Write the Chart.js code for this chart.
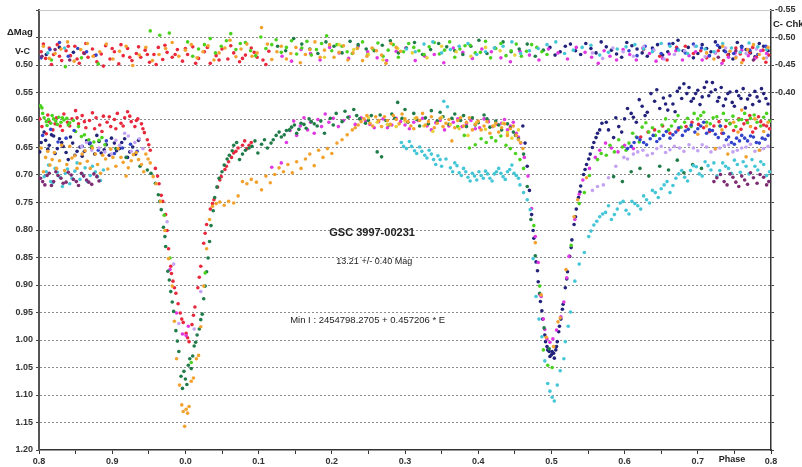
<!DOCTYPE html>
<html>
<head>
<meta charset="utf-8">
<script src="https://cdn.jsdelivr.net/npm/chart.js@4.4.0/dist/chart.umd.min.js"></script>
<style>
html, body { margin: 0; padding: 0; background: #fff; }
#wrap { width: 802px; height: 467px; position: relative; }
</style>
</head>
<body>
<div id="wrap"><canvas id="chart"></canvas></div>
<script>
// axis ticks (phase runs 0.8 .. 1.0/0.0 .. 0.8, plotted as -0.2 .. 0.8)
const phaseTicks = [-0.2, -0.15, -0.1, -0.05, 0, 0.05, 0.1, 0.15, 0.2, 0.25, 0.3, 0.35, 0.4, 0.45, 0.5, 0.55, 0.6, 0.65, 0.7, 0.75, 0.8];
const phaseTickLabels = ['0.8', '', '0.9', '', '0.0', '', '0.1', '', '0.2', '', '0.3', '', '0.4', '', '0.5', '', '0.6', '', '0.7', '', '0.8'];
const magTicks = [0.4, 0.45, 0.5, 0.55, 0.6, 0.65, 0.7, 0.75, 0.8, 0.85, 0.9, 0.95, 1.0, 1.05, 1.1, 1.15, 1.2];
const magTickLabels = ['', '', '0.50', '0.55', '0.60', '0.65', '0.70', '0.75', '0.80', '0.85', '0.90', '0.95', '1.00', '1.05', '1.10', '1.15', '1.20'];
const chkTickLabels = ['-0.55', '-0.50', '-0.45', '-0.40', '', '', '', '', '', '', '', '', '', '', '', '', ''];

const starName = 'GSC 3997-00231';
const magText = '13.21 +/- 0.40 Mag';
const ephemText = 'Min I : 2454798.2705 + 0.457206 * E';

// V-C points per night [phase, dMag]
const redV = [[-0.196,0.612],[-0.190,0.625],[-0.186,0.603],[-0.181,0.618],[-0.176,0.596],[-0.171,0.611],[-0.166,0.589],[-0.161,0.604],[-0.155,0.598],[-0.150,0.583],[-0.146,0.607],[-0.141,0.592],[-0.136,0.614],[-0.131,0.601],[-0.127,0.587],[-0.122,0.596],[-0.117,0.609],[-0.112,0.593],[-0.107,0.604],[-0.102,0.612],[-0.097,0.599],[-0.093,0.588],[-0.088,0.606],[-0.083,0.596],[-0.079,0.585],[-0.074,0.603],[-0.069,0.612],[-0.065,0.598],[-0.060,0.607],[-0.056,0.623],[-0.052,0.636],[-0.048,0.655],
  [-0.199,0.598],[-0.188,0.591],[-0.178,0.607],[-0.168,0.619],[-0.158,0.611],[-0.148,0.596],[-0.138,0.603],[-0.124,0.616],[-0.114,0.621],[-0.104,0.594],[-0.095,0.616],[-0.085,0.611],[-0.076,0.593],[-0.067,0.601],[-0.058,0.616],[-0.050,0.645],
  [-0.041,0.688],[-0.036,0.716],[-0.031,0.748],[-0.027,0.772],[-0.023,0.834],[-0.020,0.866],[-0.017,0.893],[-0.013,0.915],[-0.010,0.934],[-0.007,0.951],[-0.003,0.968],[0.001,0.988],[0.005,1.003],
  [-0.038,0.702],[-0.033,0.737],[-0.025,0.801],[-0.019,0.879],[-0.015,0.905],[-0.005,0.962],[0.003,0.996],[0.011,0.955],[0.019,0.886],[0.027,0.806],[0.037,0.752],[0.047,0.709],[0.056,0.684],[0.063,0.668],[0.069,0.657],[0.081,0.638],[0.087,0.646],
  [0.009,0.972],[0.013,0.940],[0.017,0.905],[0.021,0.866],[0.025,0.824],[0.029,0.790],[0.034,0.762],[0.039,0.745],[0.044,0.722],[0.049,0.703],[0.054,0.690],[0.059,0.676],[0.066,0.660],[0.072,0.651],[0.078,0.646],[0.084,0.652],[0.090,0.641],
  [0.622,0.631],[0.641,0.618],[0.662,0.624],[0.684,0.612],[0.701,0.608],[0.716,0.621],[0.729,0.603],[0.738,0.612],[0.749,0.619],[0.756,0.598],[0.763,0.607],[0.771,0.592],[0.779,0.615],[0.786,0.603],[0.794,0.611],
  [0.632,0.622],[0.652,0.611],[0.673,0.618],[0.692,0.604],[0.708,0.614],[0.722,0.611],[0.733,0.624],[0.744,0.606],[0.759,0.617],[0.767,0.601],[0.775,0.622],[0.783,0.594],[0.790,0.609],[0.798,0.616]];
const navyV = [[-0.197,0.641],[-0.193,0.622],[-0.188,0.653],[-0.183,0.627],[-0.178,0.661],[-0.172,0.634],[-0.167,0.648],[-0.160,0.672],[-0.154,0.642],[-0.148,0.657],[-0.141,0.666],[-0.135,0.638],[-0.128,0.651],[-0.121,0.628],[-0.115,0.660],[-0.108,0.645],[-0.101,0.633],[-0.094,0.656],[-0.087,0.641],[-0.079,0.668],[-0.072,0.649],[-0.064,0.637],
  [-0.199,0.658],[-0.191,0.637],[-0.186,0.646],[-0.180,0.629],[-0.175,0.652],[-0.169,0.641],[-0.163,0.659],[-0.157,0.631],[-0.151,0.664],[-0.144,0.649],[-0.138,0.657],[-0.131,0.643],[-0.124,0.662],[-0.118,0.639],[-0.111,0.654],[-0.104,0.664],[-0.097,0.642],[-0.090,0.652],[-0.083,0.634],[-0.076,0.658],[-0.068,0.662],
  [0.461,0.611],[0.464,0.642],[0.467,0.684],[0.470,0.728],[0.473,0.772],[0.476,0.815],[0.479,0.858],[0.482,0.894],[0.485,0.930],[0.488,0.962],[0.491,0.991],[0.494,1.012],[0.497,1.021],[0.500,1.027],[0.503,1.024],[0.506,1.018],[0.508,1.003],
  [0.475,0.801],[0.481,0.874],[0.487,0.947],[0.492,1.003],[0.495,1.018],[0.498,1.030],[0.501,1.021],[0.504,1.033],[0.507,1.012],[0.511,0.975],[0.515,0.944],[0.521,0.889],[0.527,0.832],[0.533,0.776],[0.539,0.731],[0.546,0.690],[0.551,0.671],[0.556,0.650],[0.561,0.632],[0.566,0.618],
  [0.510,0.985],[0.513,0.962],[0.516,0.935],[0.519,0.905],[0.522,0.876],[0.525,0.848],[0.528,0.818],[0.531,0.790],[0.534,0.762],[0.537,0.741],[0.540,0.720],[0.544,0.699],[0.548,0.681],[0.553,0.662],[0.558,0.641],[0.563,0.624],[0.569,0.606],
  [0.578,0.618],[0.585,0.632],[0.592,0.612],[0.600,0.598],[0.609,0.588],[0.616,0.604],[0.624,0.575],[0.631,0.586],[0.636,0.552],[0.641,0.566],[0.648,0.579],[0.653,0.560],[0.659,0.582],[0.666,0.571],[0.672,0.548],[0.678,0.561],[0.681,0.534],[0.685,0.552],[0.691,0.566],[0.697,0.552],[0.703,0.572],[0.709,0.541],[0.715,0.556],[0.720,0.532],[0.724,0.545],[0.729,0.559],[0.735,0.574],[0.741,0.552],[0.747,0.568],[0.753,0.548],[0.759,0.561],[0.765,0.578],[0.771,0.555],[0.778,0.548],[0.784,0.566],[0.790,0.552],[0.796,0.571],
  [0.575,0.604],[0.588,0.596],[0.596,0.622],[0.604,0.579],[0.612,0.595],[0.620,0.563],[0.628,0.592],[0.644,0.545],[0.656,0.571],[0.662,0.556],[0.669,0.585],[0.675,0.542],[0.688,0.541],[0.694,0.561],[0.700,0.546],[0.706,0.558],[0.712,0.531],[0.718,0.549],[0.727,0.566],[0.732,0.541],[0.738,0.562],[0.744,0.549],[0.750,0.575],[0.756,0.556],[0.762,0.543],[0.768,0.562],[0.775,0.572],[0.781,0.558],[0.787,0.543],[0.793,0.561]];
const blueV = [[-0.195,0.628],[-0.184,0.617],[-0.174,0.640],[-0.163,0.633],[-0.152,0.619],[-0.141,0.648],[-0.130,0.642],[-0.119,0.655],[-0.108,0.638],[-0.097,0.661],[-0.086,0.651],[-0.075,0.644],[-0.066,0.657],
  [0.604,0.652],[0.613,0.641],[0.621,0.636],[0.630,0.645],[0.639,0.628],[0.648,0.634],[0.657,0.621],[0.666,0.627],[0.674,0.614],[0.683,0.620],[0.691,0.609],[0.700,0.616],[0.708,0.604],[0.716,0.618],[0.724,0.626],[0.731,0.611],[0.739,0.636],[0.746,0.641],[0.753,0.633],[0.760,0.628],[0.768,0.638],[0.776,0.631],[0.784,0.642],[0.792,0.635],
  [0.609,0.648],[0.617,0.632],[0.626,0.641],[0.635,0.634],[0.644,0.639],[0.653,0.628],[0.662,0.633],[0.670,0.622],[0.679,0.628],[0.687,0.617],[0.696,0.622],[0.704,0.611],[0.712,0.624],[0.720,0.619],[0.728,0.632],[0.735,0.624],[0.742,0.631],[0.750,0.644],[0.757,0.638],[0.764,0.633],[0.772,0.629],[0.780,0.641],[0.788,0.633],[0.796,0.628]];
const limeV = [[-0.198,0.574],[-0.196,0.578],[-0.193,0.596],[-0.190,0.603],[-0.187,0.599],[-0.184,0.606],[-0.180,0.598],[-0.177,0.602],[-0.173,0.595],[-0.170,0.604],[-0.166,0.600],[-0.162,0.597],[-0.158,0.605],[-0.153,0.601],[-0.146,0.612],[-0.138,0.627],[-0.132,0.636],[-0.125,0.640],[-0.118,0.637],[-0.110,0.645],
  [-0.195,0.588],[-0.189,0.610],[-0.182,0.592],[-0.175,0.608],[-0.168,0.596],[-0.160,0.609],[-0.150,0.621],[-0.142,0.630],[-0.128,0.648],[-0.114,0.632],
  [-0.029,0.773],[-0.021,0.851],[0.008,1.041],[0.027,0.878],
  [0.372,0.612],[0.381,0.628],[0.388,0.651],[0.396,0.645],[0.404,0.634],[0.411,0.641],[0.418,0.632],[0.424,0.638],[0.431,0.629],[0.438,0.646],[0.444,0.652],[0.451,0.661],[0.457,0.672],[0.462,0.688],
  [0.476,0.792],[0.484,0.902],[0.489,1.018],[0.495,1.046],[0.501,1.050],[0.527,0.828],[0.538,0.752],[0.545,0.732],[0.552,0.701],
  [0.563,0.672],[0.575,0.664],[0.586,0.658],[0.597,0.649],[0.606,0.642],[0.616,0.631],[0.624,0.613],[0.633,0.622],[0.642,0.628],[0.651,0.609],[0.660,0.618],[0.669,0.602],[0.677,0.613],[0.686,0.597],[0.695,0.588],[0.704,0.592],[0.712,0.604],[0.721,0.596],[0.730,0.611],[0.739,0.601],[0.748,0.593],[0.756,0.600],[0.764,0.588],[0.772,0.597],[0.781,0.604],[0.790,0.595],[0.798,0.602],
  [0.568,0.661],[0.580,0.646],[0.592,0.636],[0.602,0.655],[0.611,0.624],[0.620,0.640],[0.629,0.605],[0.638,0.614],[0.647,0.621],[0.656,0.598],[0.664,0.611],[0.673,0.592],[0.682,0.604],[0.691,0.612],[0.700,0.598],[0.708,0.586],[0.717,0.607],[0.726,0.594],[0.735,0.588],[0.744,0.607],[0.752,0.612],[0.760,0.599],[0.768,0.605],[0.777,0.591],[0.786,0.611],[0.794,0.588]];
const darkGreenV = [[-0.095,0.652],[-0.081,0.668],[-0.062,0.684],[-0.052,0.691],[-0.047,0.697],
  [-0.041,0.715],[-0.037,0.736],[-0.033,0.763],[-0.030,0.795],[-0.027,0.830],[-0.024,0.875],[-0.020,0.912],[-0.016,0.948],[-0.013,0.983],[-0.009,1.021],[-0.006,1.066],[-0.002,1.057],[0.002,1.081],[0.006,1.034],[0.010,1.029],[0.014,1.004],[0.019,0.980],[0.023,0.953],[0.027,0.902],[0.031,0.851],[0.035,0.792],[0.040,0.741],[0.046,0.706],[0.053,0.682],[0.060,0.664],[0.066,0.646],[0.074,0.672],[0.082,0.655],[0.091,0.648],[0.099,0.660],[0.108,0.636],[0.117,0.642],[0.124,0.628],[0.131,0.631],[0.138,0.619],[0.145,0.613],[0.152,0.624],[0.158,0.606],[0.165,0.615],[0.172,0.603],[0.180,0.611],[0.190,0.624],
  [-0.035,0.748],[-0.028,0.812],[-0.022,0.891],[-0.018,0.931],[-0.011,1.002],[-0.004,1.088],[0.000,1.071],[0.004,1.046],[0.008,1.052],[0.012,1.011],[0.016,0.991],[0.021,0.963],[0.025,0.925],[0.029,0.876],[0.033,0.821],[0.038,0.765],[0.043,0.722],[0.050,0.694],[0.057,0.671],[0.064,0.656],[0.070,0.641],[0.078,0.662],[0.087,0.651],[0.095,0.638],[0.104,0.644],[0.112,0.651],[0.120,0.636],[0.128,0.622],[0.135,0.627],[0.142,0.618],[0.149,0.609],[0.155,0.617],[0.162,0.608],[0.169,0.598],[0.176,0.607],[0.185,0.602],
  [0.198,0.597],[0.206,0.588],[0.214,0.603],[0.222,0.595],[0.230,0.581],[0.238,0.598],[0.246,0.606],[0.254,0.592],[0.262,0.658],[0.268,0.667],[0.274,0.601],[0.282,0.589],[0.290,0.568],[0.296,0.597],[0.304,0.604],[0.312,0.588],[0.320,0.611],[0.328,0.596],[0.336,0.583],[0.344,0.602],[0.352,0.594],[0.360,0.608],[0.368,0.589],[0.376,0.601],[0.384,0.612],[0.392,0.596],[0.400,0.605],[0.408,0.591],[0.416,0.613],[0.424,0.602],[0.432,0.618],[0.440,0.607],[0.448,0.622],[0.455,0.634],
  [0.202,0.609],[0.218,0.584],[0.234,0.592],[0.250,0.601],[0.266,0.591],[0.278,0.609],[0.286,0.597],[0.300,0.581],[0.316,0.599],[0.332,0.607],[0.348,0.586],[0.364,0.597],[0.380,0.592],[0.396,0.609],[0.412,0.598],[0.428,0.609],[0.444,0.614],[0.451,0.628],
  [0.462,0.662],[0.467,0.721],[0.472,0.781],[0.478,0.847],[0.484,0.915],[0.490,0.978],[0.497,1.016],
  [0.585,0.703],[0.597,0.712],[0.609,0.694],[0.621,0.688],[0.633,0.702],[0.648,0.684],[0.660,0.691],[0.672,0.673],[0.681,0.696],[0.693,0.681],[0.705,0.688]];
const orangeV = [[-0.197,0.651],[-0.191,0.668],[-0.185,0.682],[-0.179,0.659],[-0.172,0.674],[-0.165,0.692],[-0.158,0.648],[-0.151,0.665],[-0.144,0.679],[-0.137,0.656],[-0.130,0.688],[-0.123,0.662],[-0.116,0.697],[-0.109,0.671],[-0.102,0.653],[-0.095,0.684],[-0.088,0.668],[-0.081,0.702],[-0.074,0.674],[-0.067,0.659],[-0.060,0.681],[-0.054,0.662],[-0.048,0.678],[-0.044,0.703],[-0.040,0.716],
  [-0.194,0.694],[-0.188,0.657],[-0.182,0.672],[-0.176,0.688],[-0.169,0.646],[-0.162,0.681],[-0.155,0.669],[-0.148,0.688],[-0.141,0.662],[-0.134,0.675],[-0.127,0.651],[-0.120,0.681],[-0.113,0.664],[-0.106,0.689],[-0.099,0.668],[-0.092,0.652],[-0.085,0.677],[-0.078,0.687],[-0.071,0.663],[-0.064,0.672],[-0.057,0.694],[-0.051,0.671],
  [-0.034,0.748],[-0.028,0.801],[-0.023,0.852],[-0.018,0.902],[-0.015,0.966],[-0.012,1.034],[-0.008,1.082],[-0.005,1.118],[-0.003,1.130],[-0.001,1.157],[0.001,1.126],[0.003,1.133],[0.005,1.121],[0.008,1.075],[0.011,1.069],[0.015,1.034],[0.018,1.028],[0.021,0.976],[0.025,0.902],[0.029,0.834],[0.033,0.781],
  [0.037,0.757],[0.042,0.752],[0.047,0.749],[0.053,0.755],[0.059,0.748],[0.066,0.751],[0.072,0.738],[0.078,0.712],[0.084,0.716],[0.090,0.708],[0.097,0.713],[0.104,0.727],[0.110,0.702],[0.116,0.714],[0.122,0.699],[0.128,0.687],[0.134,0.694],[0.140,0.681],[0.146,0.696],[0.152,0.676],[0.158,0.688],[0.164,0.671],[0.170,0.662],[0.176,0.683],[0.182,0.655],[0.188,0.668],[0.194,0.652],[0.200,0.661],[0.207,0.642],[0.214,0.636],[0.221,0.627],[0.228,0.618],
  [0.236,0.609],[0.244,0.598],[0.252,0.606],[0.260,0.594],[0.268,0.612],[0.276,0.601],[0.284,0.592],[0.292,0.607],[0.300,0.598],[0.308,0.611],[0.316,0.596],[0.324,0.588],[0.332,0.603],[0.340,0.614],[0.348,0.597],[0.356,0.606],[0.364,0.638],[0.372,0.601],[0.380,0.611],[0.388,0.596],[0.396,0.608],[0.404,0.618],[0.412,0.603],[0.420,0.611],[0.428,0.622],[0.436,0.607],[0.444,0.616],[0.452,0.628],[0.458,0.641],
  [0.232,0.614],[0.240,0.603],[0.248,0.592],[0.256,0.611],[0.264,0.601],[0.272,0.594],[0.280,0.608],[0.288,0.599],[0.296,0.589],[0.304,0.603],[0.312,0.616],[0.320,0.601],[0.328,0.609],[0.336,0.594],[0.344,0.606],[0.352,0.612],[0.360,0.599],[0.368,0.614],[0.376,0.596],[0.384,0.604],[0.392,0.618],[0.400,0.602],[0.408,0.611],[0.416,0.624],[0.424,0.606],[0.432,0.614],[0.440,0.628],[0.448,0.611],[0.455,0.636],[0.461,0.652],
  [0.478,0.823],[0.486,0.918],[0.493,0.995],[0.503,1.012],[0.509,0.967],[0.512,0.960],[0.520,0.872],[0.531,0.776],[0.536,0.745],[0.548,0.705],
  [0.700,0.626],[0.712,0.611],[0.724,0.652],[0.733,0.618],[0.741,0.662],[0.749,0.604],[0.755,0.622],[0.760,0.582],[0.766,0.667],[0.772,0.612],[0.778,0.598],[0.784,0.655],[0.790,0.621],[0.796,0.604]];
const magentaV = [[-0.021,0.872],[-0.012,0.951],[-0.004,0.989],[0.001,0.992],[0.004,0.975],
  [0.118,0.686],[0.131,0.678],[0.138,0.641],[0.143,0.619],[0.148,0.602],[0.152,0.628],[0.157,0.611],[0.162,0.596],[0.167,0.618],[0.171,0.604],[0.176,0.624],[0.181,0.599],[0.186,0.612],[0.191,0.589],[0.196,0.604],[0.202,0.597],[0.209,0.612],[0.216,0.601],[0.224,0.594],[0.232,0.608],
  [0.246,0.602],[0.258,0.614],[0.270,0.598],[0.282,0.609],[0.294,0.603],[0.306,0.616],[0.318,0.601],[0.330,0.611],[0.342,0.605],[0.354,0.618],[0.366,0.604],[0.378,0.612],[0.390,0.601],[0.402,0.614],[0.414,0.603],[0.426,0.608],[0.436,0.599],[0.444,0.611],[0.452,0.624],[0.458,0.642],[0.463,0.668],
  [0.240,0.596],[0.252,0.608],[0.264,0.603],[0.276,0.614],[0.288,0.597],[0.300,0.609],[0.312,0.604],[0.324,0.597],[0.336,0.618],[0.348,0.601],[0.360,0.611],[0.372,0.598],[0.384,0.607],[0.396,0.616],[0.408,0.598],[0.420,0.612],[0.432,0.606],[0.440,0.618],[0.448,0.604],[0.455,0.631],
  [0.468,0.702],[0.473,0.761],[0.478,0.812],[0.482,0.859],[0.484,0.917],[0.486,0.921],[0.489,0.962],[0.491,0.981],[0.494,0.998],[0.498,1.004],[0.502,0.998],[0.507,0.982],[0.513,0.958],[0.517,0.931],[0.521,0.887],[0.524,0.848],[0.532,0.781],[0.538,0.735],[0.543,0.709],[0.552,0.688],[0.560,0.668],[0.566,0.655],[0.574,0.642],[0.582,0.651],[0.591,0.658],[0.600,0.646],[0.612,0.652]];
const cyanV = [[-0.193,0.703],[-0.187,0.682],[-0.181,0.714],[-0.175,0.695],[-0.168,0.721],[-0.161,0.689],[-0.155,0.706],[-0.148,0.678],[-0.141,0.698],[-0.134,0.712],[-0.127,0.684],[-0.120,0.703],[-0.112,0.691],
  [-0.190,0.694],[-0.184,0.712],[-0.178,0.688],[-0.171,0.704],[-0.164,0.697],[-0.158,0.716],[-0.151,0.693],[-0.144,0.708],[-0.137,0.687],[-0.130,0.701],[-0.123,0.694],[-0.116,0.710],
  [0.295,0.641],[0.302,0.652],[0.309,0.648],[0.316,0.661],[0.323,0.657],[0.330,0.669],[0.336,0.662],[0.342,0.681],[0.348,0.672],[0.353,0.566],[0.358,0.576],[0.362,0.687],[0.368,0.678],[0.374,0.696],[0.380,0.688],[0.386,0.704],[0.392,0.697],[0.398,0.709],[0.404,0.701],[0.410,0.693],[0.416,0.706],[0.422,0.698],[0.428,0.688],[0.434,0.703],[0.440,0.694],[0.446,0.682],[0.452,0.701],[0.457,0.718],[0.462,0.732],[0.467,0.745],[0.471,0.763],
  [0.298,0.648],[0.306,0.639],[0.313,0.656],[0.320,0.649],[0.327,0.664],[0.333,0.655],[0.339,0.672],[0.345,0.665],[0.350,0.684],[0.356,0.671],[0.365,0.694],[0.371,0.683],[0.377,0.701],[0.383,0.694],[0.389,0.711],[0.395,0.702],[0.401,0.694],[0.407,0.706],[0.413,0.698],[0.419,0.711],[0.425,0.694],[0.431,0.697],[0.437,0.708],[0.443,0.690],[0.449,0.697],[0.455,0.706],
  [0.475,0.852],[0.479,0.921],[0.483,0.962],[0.487,0.994],[0.491,1.038],[0.495,1.079],[0.498,1.093],[0.501,1.104],[0.504,1.111],[0.508,1.082],[0.512,1.056],[0.517,1.034],[0.519,1.003],[0.523,0.975],[0.526,0.949],[0.532,0.893],[0.538,0.862],[0.545,0.841],
  [0.551,0.812],[0.558,0.791],[0.566,0.776],[0.574,0.768],[0.582,0.781],[0.590,0.762],[0.598,0.748],[0.606,0.771],[0.614,0.752],[0.622,0.762],[0.630,0.745],[0.638,0.728],[0.646,0.741],[0.654,0.718],[0.662,0.732],[0.670,0.706],[0.678,0.692],[0.686,0.711],[0.694,0.683],[0.702,0.698],[0.710,0.676],[0.718,0.691],[0.726,0.702],[0.734,0.678],[0.742,0.688],[0.750,0.673],[0.758,0.695],[0.766,0.684],[0.774,0.672],[0.782,0.691],[0.790,0.681],[0.798,0.694],
  [0.554,0.802],[0.562,0.784],[0.570,0.771],[0.578,0.756],[0.586,0.772],[0.594,0.751],[0.602,0.764],[0.610,0.748],[0.618,0.756],[0.626,0.738],[0.634,0.751],[0.642,0.732],[0.650,0.725],[0.658,0.712],[0.666,0.719],[0.674,0.698],[0.682,0.704],[0.690,0.692],[0.698,0.685],[0.706,0.702],[0.714,0.683],[0.722,0.678],[0.730,0.692],[0.738,0.684],[0.746,0.697],[0.754,0.681],[0.762,0.676],[0.770,0.698],[0.778,0.684],[0.786,0.676],[0.794,0.701]];
const lavenderV = [[-0.142,0.648],[-0.128,0.655],[-0.118,0.651],[-0.101,0.662],[-0.090,0.646],[-0.083,0.624],[-0.078,0.629],[-0.069,0.641],[-0.058,0.652],
  [-0.135,0.641],[-0.110,0.658],[-0.095,0.637],[-0.074,0.657],[-0.063,0.634],
  [-0.025,0.785],[-0.016,0.862],[-0.009,0.970],[0.012,0.980],[0.021,0.912],
  [0.556,0.728],[0.563,0.721],[0.571,0.718],[0.578,0.705],[0.588,0.684],[0.599,0.668],[0.612,0.662],[0.625,0.655],[0.638,0.661],[0.650,0.648],[0.662,0.654],[0.675,0.651],[0.688,0.645],[0.700,0.656],[0.712,0.649],[0.724,0.653],[0.736,0.647],[0.748,0.658],[0.760,0.651],[0.772,0.644],[0.785,0.655],[0.796,0.648],
  [0.604,0.671],[0.618,0.658],[0.631,0.664],[0.644,0.652],[0.656,0.659],[0.668,0.648],[0.681,0.657],[0.694,0.651],[0.706,0.645],[0.718,0.658],[0.730,0.651],[0.742,0.645],[0.754,0.655],[0.766,0.649],[0.778,0.657],[0.790,0.652]];
const maroonV = [[-0.198,0.706],[-0.192,0.718],[-0.186,0.697],[-0.180,0.712],[-0.174,0.701],[-0.167,0.715],[-0.160,0.695],[-0.153,0.708],[-0.146,0.719],[-0.139,0.702],[-0.132,0.713],[-0.125,0.698],[-0.118,0.711],
  [-0.195,0.712],[-0.189,0.701],[-0.183,0.719],[-0.177,0.694],[-0.170,0.706],[-0.163,0.713],[-0.156,0.700],[-0.149,0.712],[-0.142,0.697],[-0.135,0.709],[-0.128,0.717],[-0.121,0.703],
  [0.722,0.712],[0.731,0.699],[0.740,0.718],[0.748,0.704],[0.756,0.721],[0.764,0.709],[0.772,0.696],[0.781,0.715],[0.790,0.704],[0.797,0.712],
  [0.726,0.705],[0.736,0.712],[0.744,0.698],[0.752,0.713],[0.760,0.702],[0.768,0.717],[0.776,0.705],[0.785,0.699],[0.794,0.718]];
const yellowV = [[0.262,0.604],[0.288,0.612],[0.314,0.597],[0.338,0.621],[0.362,0.608],[0.386,0.628],[0.410,0.617],[0.434,0.606],[0.446,0.633],[0.455,0.618],
  [0.250,0.596],[0.276,0.608],[0.300,0.602],[0.326,0.611],[0.350,0.595],[0.374,0.616],[0.398,0.604],[0.422,0.611],[0.440,0.623]];

// C-Chk points per night [phase, dMag]
const redC = [[-0.197,0.476],[-0.191,0.488],[-0.186,0.469],[-0.180,0.481],[-0.175,0.463],[-0.169,0.492],[-0.163,0.474],[-0.157,0.483],[-0.151,0.466],[-0.145,0.497],[-0.139,0.478],[-0.133,0.486],[-0.127,0.471],[-0.121,0.494],[-0.115,0.480],[-0.109,0.465],[-0.103,0.489],[-0.097,0.476],[-0.091,0.498],[-0.085,0.483],[-0.079,0.470],[-0.073,0.492],[-0.067,0.479],[-0.061,0.486],[-0.055,0.473],[-0.049,0.495],[-0.043,0.481],[-0.037,0.468],[-0.031,0.490],[-0.025,0.477],[-0.018,0.486],[-0.011,0.472],[-0.004,0.493],[0.003,0.481],[0.010,0.467],[0.018,0.488],[0.026,0.476],[0.034,0.497],[0.042,0.483],[0.050,0.471],[0.058,0.489],[0.066,0.478],[0.074,0.494],[0.082,0.482],[0.090,0.469],[0.098,0.486],[0.106,0.491],[0.114,0.475],
  [-0.194,0.462],[-0.183,0.499],[-0.172,0.484],[-0.160,0.466],[-0.148,0.489],[-0.136,0.461],[-0.124,0.483],[-0.112,0.502],[-0.100,0.470],[-0.088,0.463],[-0.076,0.486],[-0.064,0.467],[-0.052,0.481],[-0.040,0.499],[-0.028,0.464],[-0.014,0.481],[0.000,0.470],[0.014,0.497],[0.030,0.468],[0.046,0.491],[0.062,0.465],[0.078,0.488],[0.094,0.477],[0.110,0.499],
  [0.626,0.472],[0.648,0.484],[0.671,0.468],[0.694,0.479],[0.712,0.487],[0.728,0.474],[0.741,0.482],[0.752,0.469],[0.762,0.491],[0.771,0.477],[0.780,0.486],[0.789,0.473],[0.797,0.482],
  [0.658,0.491],[0.683,0.466],[0.704,0.474],[0.735,0.492],[0.758,0.480],[0.775,0.468],[0.793,0.495]];
const orangeC = [[-0.194,0.466],[-0.178,0.479],[-0.161,0.458],[-0.143,0.472],[-0.126,0.484],[-0.108,0.462],[-0.090,0.475],[-0.072,0.501],[-0.054,0.468],[-0.036,0.481],[-0.018,0.459],[0.000,0.473],[0.016,0.487],[0.031,0.465],[0.046,0.478],[0.061,0.455],[0.076,0.471],[0.091,0.484],[0.104,0.432],[0.112,0.462],[0.125,0.476],[0.138,0.489],[0.151,0.468],[0.164,0.481],[0.177,0.458],[0.190,0.473],[0.203,0.486],[0.216,0.465],[0.229,0.478],[0.242,0.492],[0.255,0.469],[0.268,0.482],[0.281,0.461],[0.294,0.475],
  [-0.186,0.488],[-0.170,0.471],[-0.152,0.493],[-0.134,0.461],[-0.117,0.476],[-0.099,0.489],[-0.081,0.466],[-0.063,0.482],[-0.045,0.492],[-0.027,0.470],[-0.009,0.484],[0.008,0.463],[0.024,0.476],[0.039,0.491],[0.054,0.469],[0.069,0.485],[0.084,0.462],[0.098,0.478],[0.118,0.490],[0.131,0.466],[0.144,0.479],[0.157,0.496],[0.170,0.472],[0.184,0.486],[0.197,0.463],[0.210,0.477],[0.222,0.491],[0.235,0.470],[0.248,0.484],[0.261,0.474],[0.274,0.497],[0.288,0.468],
  [0.712,0.478],[0.734,0.466],[0.752,0.487],[0.768,0.472],[0.784,0.481],[0.796,0.468],
  [0.722,0.489],[0.744,0.475],[0.760,0.496],[0.776,0.463],[0.790,0.488]];
const limeC = [[-0.183,0.491],[-0.164,0.503],[-0.142,0.487],[-0.119,0.498],[-0.048,0.438],[-0.035,0.446],[-0.022,0.442],
  [0.003,0.458],[0.018,0.471],[0.034,0.452],[0.049,0.466],[0.062,0.443],[0.075,0.461],[0.089,0.474],[0.103,0.449],[0.118,0.463],[0.131,0.477],[0.145,0.456],[0.159,0.469],[0.172,0.482],[0.186,0.461],[0.200,0.474],[0.214,0.466],[0.228,0.479],[0.242,0.458],[0.256,0.471],[0.270,0.484],[0.284,0.463],[0.298,0.476],[0.312,0.468],[0.326,0.481],[0.340,0.459],[0.354,0.473],[0.368,0.486],[0.382,0.465],[0.396,0.478],[0.410,0.457],[0.424,0.470],[0.438,0.483],[0.452,0.462],[0.466,0.475],[0.480,0.468],[0.494,0.481],
  [0.010,0.484],[0.026,0.463],[0.041,0.478],[0.056,0.456],[0.069,0.472],[0.082,0.459],[0.096,0.483],[0.110,0.470],[0.124,0.454],[0.138,0.468],[0.152,0.480],[0.166,0.457],[0.179,0.472],[0.193,0.447],[0.207,0.463],[0.221,0.476],[0.235,0.469],[0.249,0.481],[0.263,0.460],[0.277,0.473],[0.291,0.486],[0.305,0.461],[0.319,0.474],[0.333,0.467],[0.347,0.480],[0.361,0.458],[0.375,0.471],[0.389,0.464],[0.403,0.477],[0.417,0.487],[0.431,0.461],[0.445,0.474],[0.459,0.484],[0.473,0.463],[0.487,0.476]];
const navyC = [[-0.190,0.481],[-0.172,0.468],[-0.153,0.477],
  [0.498,0.468],[0.512,0.476],[0.526,0.462],[0.540,0.481],[0.554,0.470],[0.568,0.458],[0.582,0.473],[0.596,0.486],[0.610,0.465],[0.624,0.478],[0.638,0.469],[0.652,0.482],[0.666,0.461],[0.680,0.474],[0.694,0.487],[0.706,0.463],[0.718,0.476],[0.730,0.468],[0.742,0.481],[0.754,0.459],[0.766,0.472],[0.778,0.485],[0.790,0.466],
  [0.505,0.482],[0.519,0.466],[0.533,0.474],[0.547,0.461],[0.561,0.478],[0.575,0.467],[0.589,0.480],[0.603,0.459],[0.617,0.471],[0.631,0.484],[0.645,0.463],[0.659,0.476],[0.673,0.455],[0.687,0.468],[0.700,0.479],[0.712,0.470],[0.724,0.458],[0.736,0.474],[0.748,0.489],[0.760,0.466],[0.772,0.478],[0.784,0.461],[0.796,0.474]];
const blueC = [[-0.185,0.472],[-0.160,0.484],[-0.135,0.476],[-0.197,0.487],[-0.172,0.459],[-0.147,0.470],[-0.122,0.482],
  [0.606,0.474],[0.628,0.466],[0.650,0.479],[0.672,0.471],[0.694,0.462],[0.716,0.483],[0.738,0.476],[0.760,0.468],[0.782,0.481],
  [0.617,0.483],[0.639,0.472],[0.661,0.462],[0.683,0.478],[0.705,0.469],[0.727,0.464],[0.749,0.479],[0.771,0.473],[0.793,0.466]];
const magentaC = [[0.132,0.484],[0.158,0.472],[0.184,0.491],[0.210,0.478],[0.236,0.466],[0.262,0.487],[0.288,0.475],[0.314,0.492],[0.340,0.481],[0.366,0.469],[0.392,0.488],[0.418,0.476],[0.444,0.494],[0.470,0.482],[0.496,0.471],[0.522,0.489],[0.546,0.477],[0.564,0.497],[0.580,0.484],[0.598,0.472],[0.616,0.491],[0.634,0.479],[0.652,0.488],[0.670,0.474],[0.688,0.483],[0.706,0.491],[0.724,0.478],[0.742,0.486],[0.760,0.473],[0.778,0.488],[0.794,0.479],
  [0.145,0.493],[0.171,0.479],[0.197,0.468],[0.223,0.488],[0.249,0.476],[0.275,0.492],[0.301,0.469],[0.327,0.484],[0.353,0.496],[0.379,0.477],[0.405,0.471],[0.431,0.487],[0.457,0.475],[0.483,0.491],[0.509,0.478],[0.534,0.468],[0.555,0.486],[0.572,0.474],[0.589,0.491],[0.607,0.481],[0.625,0.469],[0.643,0.493],[0.661,0.480],[0.679,0.491],[0.697,0.476],[0.715,0.484],[0.733,0.497],[0.751,0.478],[0.769,0.483],[0.786,0.474]];
const cyanC = [[-0.188,0.478],[-0.165,0.469],
  [0.302,0.471],[0.326,0.462],[0.350,0.478],[0.374,0.466],[0.398,0.481],[0.422,0.469],[0.446,0.458],[0.470,0.474],[0.494,0.463],[0.518,0.479],[0.542,0.468],[0.566,0.482],[0.590,0.471],[0.614,0.463],[0.638,0.476],[0.662,0.466],[0.686,0.479],[0.710,0.471],[0.734,0.461],[0.758,0.477],[0.782,0.467],
  [0.314,0.476],[0.338,0.458],[0.362,0.472],[0.386,0.461],[0.410,0.476],[0.434,0.466],[0.458,0.479],[0.482,0.470],[0.506,0.458],[0.530,0.473],[0.554,0.464],[0.578,0.477],[0.602,0.467],[0.626,0.471],[0.650,0.461],[0.674,0.473],[0.698,0.466],[0.722,0.476],[0.746,0.469],[0.770,0.460],[0.794,0.472]];
const darkGreenC = [[0.126,0.466],[0.148,0.452],[0.170,0.471],[0.192,0.458],[0.214,0.478],[0.236,0.463],[0.258,0.474],[0.280,0.456],[0.302,0.469],[0.324,0.481],[0.346,0.461],[0.368,0.474],[0.390,0.466],[0.412,0.479],[0.434,0.458],[0.456,0.471],[0.478,0.484],
  [0.137,0.474],[0.159,0.462],[0.181,0.479],[0.203,0.466],[0.225,0.457],[0.247,0.471],[0.269,0.464],[0.291,0.478],[0.313,0.459],[0.335,0.472],[0.357,0.467],[0.379,0.481],[0.401,0.455],[0.423,0.469],[0.445,0.476],[0.467,0.462],[0.489,0.473]];
const lavenderC = [[0.556,0.478],[0.584,0.469],[0.612,0.484],[0.640,0.473],[0.668,0.481],[0.696,0.466],[0.724,0.477],[0.752,0.485],[0.780,0.471],
  [0.570,0.488],[0.598,0.476],[0.626,0.467],[0.654,0.489],[0.682,0.474],[0.710,0.485],[0.738,0.469],[0.766,0.479],[0.794,0.487]];
const maroonC = [[-0.196,0.484],[-0.178,0.472],[-0.158,0.491],[-0.138,0.479],[0.728,0.486],[0.752,0.474],[0.776,0.491]];
const yellowC = [[0.190,0.486],[0.230,0.472],[0.270,0.491],[0.310,0.478],[0.350,0.466],[0.390,0.484],[0.430,0.474],
  [0.210,0.463],[0.250,0.481],[0.290,0.470],[0.330,0.487],[0.370,0.476],[0.410,0.468],[0.450,0.482]];

const nights = [
  { color: '#f2a22e', v: orangeV, c: orangeC },
  { color: '#e6d23a', v: yellowV, c: yellowC },
  { color: '#7d2b72', v: maroonV, c: maroonC },
  { color: '#44c6d6', v: cyanV, c: cyanC },
  { color: '#c4a2f2', v: lavenderV, c: lavenderC },
  { color: '#3344cc', v: blueV, c: blueC },
  { color: '#4ad21e', v: limeV, c: limeC },
  { color: '#1f7c48', v: darkGreenV, c: darkGreenC },
  { color: '#e038e0', v: magentaV, c: magentaC },
  { color: '#e8283c', v: redV, c: redC },
  { color: '#22227a', v: navyV, c: navyC }
];

const FONT = '"Liberation Sans", Arial, sans-serif';

const textPlugin = {
  id: 'textPlugin',
  beforeDatasetsDraw(chart) {
    const ctx = chart.ctx, a = chart.chartArea;
    ctx.save();
    ctx.strokeStyle = '#c8c8c8';
    ctx.lineWidth = 1;
    ctx.beginPath();
    ctx.moveTo(a.left, a.top + 0.5);
    ctx.lineTo(a.right, a.top + 0.5);
    ctx.stroke();
    ctx.restore();
  },
  afterDraw(chart) {
    const ctx = chart.ctx;
    const xs = chart.scales.x, ys = chart.scales.y;
    ctx.save();
    ctx.fillStyle = '#222';
    ctx.textBaseline = 'middle';
    ctx.textAlign = 'left';
    ctx.font = 'bold 9.5px ' + FONT;
    ctx.fillText('\u0394Mag', 7, 32);
    ctx.font = 'bold 9px ' + FONT;
    ctx.fillText('V-C', 15, 52);
    ctx.font = 'bold 9.5px ' + FONT;
    ctx.fillText('C- Chk', 773, 24);
    ctx.font = 'bold 9px ' + FONT;
    ctx.textAlign = 'center';
    ctx.fillText('Phase', 732, 460);
    ctx.font = 'bold 11px ' + FONT;
    ctx.fillText(starName, xs.getPixelForValue(0.255), ys.getPixelForValue(0.805));
    ctx.font = '9px ' + FONT;
    ctx.fillText(magText, xs.getPixelForValue(0.258), ys.getPixelForValue(0.858));
    ctx.font = '9.5px ' + FONT;
    ctx.fillText(ephemText, xs.getPixelForValue(0.249), ys.getPixelForValue(0.964));
    ctx.restore();
  }
};

const tickFont = { family: FONT, size: 9, weight: 'bold' };

new Chart(document.getElementById('chart'), {
  type: 'scatter',
  data: {
    datasets: nights.map(n => ({
      data: n.v.concat(n.c).map(p => ({ x: p[0], y: p[1] })),
      backgroundColor: n.color,
      borderWidth: 0,
      pointRadius: 1.8,
      pointHoverRadius: 1.8
    }))
  },
  options: {
    responsive: true,
    maintainAspectRatio: false,
    animation: false,
    events: [],
    layout: { padding: { top: 10, left: 0, right: 0, bottom: 0 } },
    plugins: { legend: { display: false }, tooltip: { enabled: false } },
    scales: {
      x: {
        type: 'linear', min: -0.2, max: 0.8,
        afterBuildTicks: s => { s.ticks = phaseTicks.map(v => ({ value: v })); },
        afterFit: s => { s.height = 17; },
        ticks: { autoSkip: false, maxRotation: 0, padding: 2, color: '#333', font: tickFont,
          callback: (v, i) => phaseTickLabels[i] },
        grid: { drawOnChartArea: false, tickLength: 4, tickColor: '#333' },
        border: { color: '#333', width: 1.5 }
      },
      y: {
        type: 'linear', position: 'left', min: 0.4, max: 1.2, reverse: true,
        afterBuildTicks: s => { s.ticks = magTicks.map(v => ({ value: v })); },
        afterFit: s => { s.width = 39; },
        ticks: { autoSkip: false, padding: 3, color: '#333', font: tickFont,
          callback: (v, i) => magTickLabels[i] },
        grid: {
          color: c => (c.index === 0 || c.index === magTicks.length - 1) ? 'rgba(0,0,0,0)' : '#8c8c8c',
          tickColor: '#444', tickLength: 3, lineWidth: 1
        },
        border: { color: '#555', width: 2, dash: [2, 2] }
      },
      y2: {
        type: 'linear', position: 'right', min: 0.4, max: 1.2, reverse: true,
        afterBuildTicks: s => { s.ticks = magTicks.map(v => ({ value: v })); },
        afterFit: s => { s.width = 31; },
        ticks: { autoSkip: false, padding: 1, color: '#333', font: tickFont,
          callback: (v, i) => chkTickLabels[i] },
        grid: { drawOnChartArea: false, tickColor: '#444', tickLength: 3 },
        border: { color: '#333', width: 1.5 }
      }
    }
  },
  plugins: [textPlugin]
});
</script>
</body>
</html>
